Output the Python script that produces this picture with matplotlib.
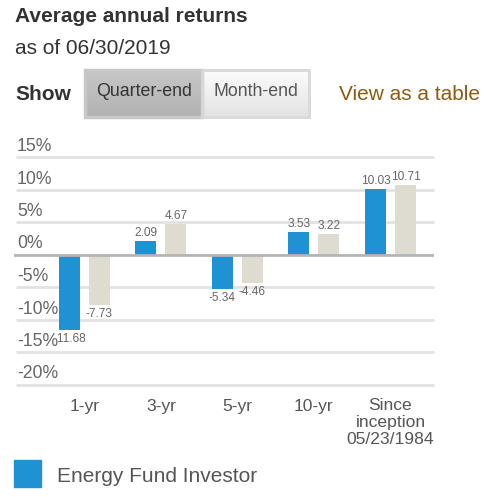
import numpy as np
import matplotlib
matplotlib.use("Agg")
import matplotlib.pyplot as plt
from matplotlib.patches import Rectangle
from matplotlib.transforms import blended_transform_factory, offset_copy

plt.rcParams['font.family'] = ['Liberation Sans', 'DejaVu Sans']

# data
categories = ['1-yr', '3-yr', '5-yr', '10-yr', 'Since\ninception\n05/23/1984']
fund = [-11.68, 2.09, -5.34, 3.53, 10.03]
benchmark = [-7.73, 4.67, -4.46, 3.22, 10.71]
yticks = [15, 10, 5, 0, -5, -10, -15, -20]
fund_name = 'Energy Fund Investor'

blue = '#1e92d2'
beige = '#dedbd0'
W, H = 485, 497

fig = plt.figure(figsize=(W / 100, H / 100), dpi=100)

# chart axes, placed in pixels
x0, x1 = 14, 434
y_top, y_bot = 157, 384.5
ax = fig.add_axes([x0 / W, 1 - y_bot / H, (x1 - x0) / W, (y_bot - y_top) / H])
ax.set_ylim(-20, 15)
step = 76.5
ax.set_xlim((x0 - 84.5) / step, (x1 - 84.5) / step)
ax.axis('off')

xs = np.arange(len(categories))
off = 15 / step
bw = 21 / step

# grid
for t in yticks:
    if t == 0:
        continue
    ax.plot([(16 - 84.5) / step, (x1 - 84.5) / step], [t, t], color='#e2e2e2', lw=2, zorder=0,
            solid_capstyle='butt', clip_on=False)
ax.axhline(0, color='#b4b4b4', lw=2, zorder=3)

ax.bar(xs - off, fund, width=bw, color=blue, zorder=2)
ax.bar(xs + off, benchmark, width=bw, color=beige, zorder=2)

up = offset_copy(ax.transData, fig=fig, y=2, units='dots')
down = offset_copy(ax.transData, fig=fig, y=-3, units='dots')
for vals, dx in [(fund, -off), (benchmark, off)]:
    for x, v in zip(xs, vals):
        if v >= 0:
            ax.text(x + dx, v, f'{v:.2f}', transform=up, ha='center', va='bottom',
                    fontsize=8.6, color='#666666', zorder=4)
        else:
            ax.text(x + dx, v, f'{v:.2f}', transform=down, ha='center', va='top',
                    fontsize=8.6, color='#666666', zorder=4)

lab = offset_copy(blended_transform_factory(ax.transAxes, ax.transData), fig=fig, y=6, units='dots')
for t in yticks:
    ax.text(3 / (x1 - x0), t, f'{t}%', transform=lab, ha='left', va='baseline',
            fontsize=12.7, color='#666666', zorder=6,
            bbox=dict(boxstyle='square,pad=0.0', fc='white', ec='none'))

# overlay axes for the page elements, pixel coords
ov = fig.add_axes([0, 0, 1, 1], zorder=-1)
ov.set_xlim(0, W)
ov.set_ylim(H, 0)
ov.axis('off')

ov.text(15, 16, 'Average annual returns', fontsize=15, fontweight='bold', color='#333333',
        ha='left', va='center')
ov.text(15, 48, 'as of 06/30/2019', fontsize=15, color='#333333', ha='left', va='center')
ov.text(15, 94, 'Show', fontsize=15, fontweight='bold', color='#333333', ha='left', va='center')

# buttons
g1 = np.linspace(0, 1, 50)[:, None]
dark = np.dstack([0.78 - 0.08 * g1] * 3)
light = np.dstack([0.99 - 0.1 * g1] * 3)
ov.imshow(dark, extent=(85, 202.5, 116.5, 69.5), aspect='auto', zorder=1)
ov.imshow(light, extent=(202.5, 309, 116.5, 69.5), aspect='auto', zorder=1)
ov.add_patch(Rectangle((85, 69.5), 117.5, 47, fill=False, ec='#c8c8c8', lw=2.5, zorder=2))
ov.add_patch(Rectangle((202.5, 69.5), 106.5, 47, fill=False, ec='#d8d8d8', lw=2, zorder=2))
ov.text(143.7, 92, 'Quarter-end', fontsize=12.8, color='#333333', ha='center', va='center', zorder=3)
ov.text(255.7, 92, 'Month-end', fontsize=12.8, color='#555555', ha='center', va='center', zorder=3)
ov.text(480, 95, 'View as a table', fontsize=15, color='#8c5a12', ha='right', va='center')

# category labels
for i, c in enumerate(categories):
    ov.text(84.5 + step * i, 398.5, c, fontsize=12.6, color='#555555', ha='center', va='top',
            linespacing=1.13)

# legend
ov.add_patch(Rectangle((14, 460), 27, 27, color=blue))
ov.text(57, 476, fund_name, fontsize=15, color='#555555', ha='left', va='center')

fig.savefig('out.png', dpi=100)
